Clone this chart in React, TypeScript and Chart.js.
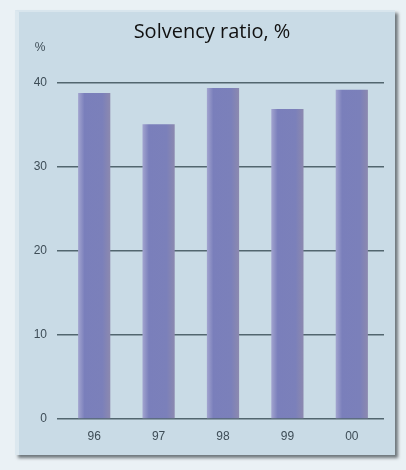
import React, { useEffect, useRef } from "react";
import { Chart, registerables } from "chart.js";

Chart.register(...registerables);

const categories = ["96", "97", "98", "99", "00"];
const solvency = [38.8, 35.1, 39.4, 36.9, 39.2];
const yTicks = [0, 10, 20, 30, 40];
const titleText = "Solvency ratio, %";
const unitText = "%";

const textPlugin = {
  id: "textLabels",
  afterDraw(chart: any) {
    const ctx = chart.ctx;
    ctx.save();
    ctx.textAlign = "center";
    ctx.textBaseline = "middle";
    ctx.fillStyle = "#111111";
    ctx.font = "20px 'Open Sans'";
    ctx.fillText(titleText, 212, 32);
    ctx.fillStyle = "#3e4d57";
    ctx.font = "12px 'Liberation Sans'";
    ctx.fillText(unitText, 40, 48);
    ctx.restore();
  },
};

export default function App() {
  const ref = useRef<HTMLCanvasElement>(null);
  useEffect(() => {
    if (!ref.current) return;
    const chart = new Chart(ref.current, {
      type: "bar",
      data: {
        labels: categories,
        datasets: [
          {
            data: solvency,
            barPercentage: 0.5,
            categoryPercentage: 1,
            backgroundColor: (c: any) => {
              const ch = c.chart;
              const xs = ch.scales?.x;
              if (!xs || c.dataIndex === undefined) return "#7b80bb";
              const cx = xs.getPixelForValue(c.dataIndex);
              const w = (xs.width / categories.length) * 0.5;
              if (!isFinite(cx) || !isFinite(w) || w <= 0) return "#7b80bb";
              const g = ch.ctx.createLinearGradient(cx - w / 2, 0, cx + w / 2, 0);
              g.addColorStop(0, "#a2a4cf");
              g.addColorStop(0.2, "#7a7fbb");
              g.addColorStop(0.75, "#7b80ba");
              g.addColorStop(1, "#8c89af");
              return g;
            },
            borderWidth: 0,
          },
        ],
      },
      options: {
        animation: false,
        responsive: false,
        layout: { padding: { top: 83, left: 0, right: 22, bottom: 0 } },
        plugins: {
          legend: { display: false },
          tooltip: { enabled: false },
          title: { display: false },
        },
        scales: {
          x: {
            grid: { display: false, drawTicks: false },
            border: { display: false },
            ticks: {
              color: "#3e4d57",
              font: { size: 12, family: "'Liberation Sans'" },
              padding: 10,
            },
            afterFit: (s: any) => {
              s.height = 51;
            },
          },
          y: {
            min: 0,
            max: 40,
            afterBuildTicks: (s: any) => {
              s.ticks = yTicks.map((v) => ({ value: v }));
            },
            grid: { color: "#52666f", lineWidth: 1.5, drawTicks: true, tickLength: 5 },
            border: { display: false },
            ticks: {
              color: "#3e4d57",
              font: { size: 12, family: "'Liberation Sans'" },
              padding: 10,
            },
            afterFit: (s: any) => {
              s.width = 62;
            },
          },
        },
      },
      plugins: [textPlugin],
    });
    return () => chart.destroy();
  }, []);

  return (
    <div
      style={{
        position: "absolute",
        left: 0,
        top: 0,
        width: 406,
        height: 470,
        background: "#eaf1f5",
        overflow: "hidden",
      }}
    >
      <div
        style={{
          position: "absolute",
          left: 15,
          top: 10,
          width: 380,
          height: 445,
          background: "#c9dbe6",
          borderLeft: "4px solid #dce8ef",
          borderTop: "2px solid #d8e5ed",
          boxSizing: "border-box",
          boxShadow: "3px 3px 3px #6f777c",
        }}
      />
      <canvas
        ref={ref}
        width={406}
        height={470}
        style={{ position: "absolute", left: 0, top: 0 }}
      />
    </div>
  );
}
